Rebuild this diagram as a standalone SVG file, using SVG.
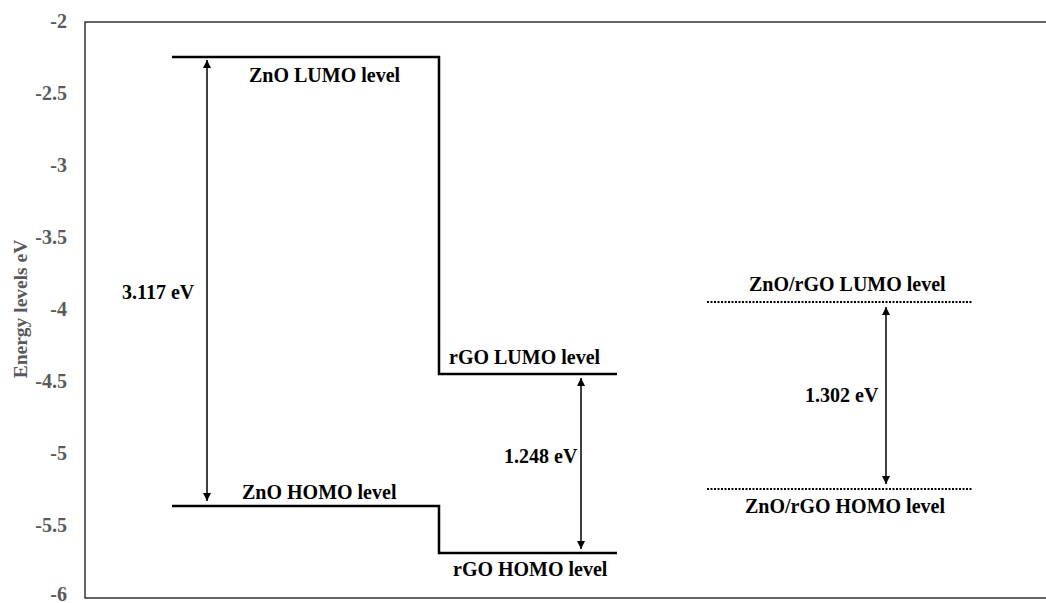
<svg xmlns="http://www.w3.org/2000/svg" width="1046" height="603" viewBox="0 0 1046 603">
<style>
.lbl{font-family:"Liberation Serif","Times New Roman",serif;font-weight:bold;font-size:20px;fill:#000}
.tick{font-family:"Liberation Serif","Times New Roman",serif;font-weight:bold;font-size:20px;fill:#595959;text-anchor:end}
.axt{font-family:"Liberation Serif","Times New Roman",serif;font-weight:bold;font-size:19.5px;fill:#595959;text-anchor:middle}
.lvl{fill:none;stroke:#000;stroke-width:2.5}
.dot{fill:none;stroke:#000;stroke-width:2;stroke-dasharray:2 1.5}
.arr{fill:none;stroke:#000;stroke-width:1.5;marker-start:url(#ah);marker-end:url(#ah)}
.frame{fill:none;stroke:#333;stroke-width:1.5}
</style>
<defs>
<marker id="ah" viewBox="0 0 10 10" refX="10" refY="5" markerWidth="8" markerHeight="8" markerUnits="userSpaceOnUse" orient="auto-start-reverse">
<path d="M0,0 L10,5 L0,10 z" fill="#000"/>
</marker>
</defs>
<rect width="1046" height="603" fill="#fff"/>
<g id="frame">
<path class="frame" d="M1047,22 H85 V598 H1047"/>
</g>
<g id="axis">
<text class="tick" x="67" y="28">-2</text>
<text class="tick" x="67" y="100">-2.5</text>
<text class="tick" x="67" y="172">-3</text>
<text class="tick" x="67" y="244">-3.5</text>
<text class="tick" x="67" y="316">-4</text>
<text class="tick" x="67" y="388">-4.5</text>
<text class="tick" x="67" y="460">-5</text>
<text class="tick" x="67" y="532">-5.5</text>
<text class="tick" x="67" y="601">-6</text>
<text class="axt" transform="translate(27,309) rotate(-90)">Energy levels eV</text>
</g>
<g id="zno-lumo">
<path class="lvl" d="M172,57 H439 V374 H617"/>
<text class="lbl" x="249" y="82">ZnO LUMO level</text>
</g>
<g id="rgo-lumo">
<text class="lbl" x="449" y="364">rGO LUMO level</text>
</g>
<g id="zno-homo">
<path class="lvl" d="M172,506 H439 V553 H617"/>
<text class="lbl" x="242" y="499">ZnO HOMO level</text>
</g>
<g id="rgo-homo">
<text class="lbl" x="453" y="576">rGO HOMO level</text>
</g>
<g id="znorgo-lumo">
<path class="dot" d="M707,302 H972"/>
<text class="lbl" x="749" y="291">ZnO/rGO LUMO level</text>
</g>
<g id="znorgo-homo">
<path class="dot" d="M707,489 H972"/>
<text class="lbl" x="745" y="513">ZnO/rGO HOMO level</text>
</g>
<g id="connectors">
<path class="arr" d="M207,60 V501"/>
<path class="arr" d="M581,378 V549"/>
<path class="arr" d="M886,307 V484"/>
</g>
<g id="gap-labels">
<text class="lbl" x="122" y="299">3.117 eV</text>
<text class="lbl" x="504" y="463">1.248 eV</text>
<text class="lbl" x="805" y="402">1.302 eV</text>
</g>
</svg>
